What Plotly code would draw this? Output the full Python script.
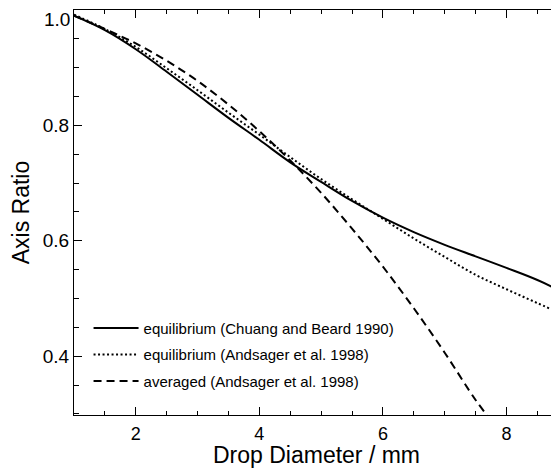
import plotly.graph_objects as go

# Drop diameter (mm)
diam_cb = [1.0, 1.5, 2.0, 2.5, 3.0, 3.5, 4.0, 4.5, 5.0, 5.5, 6.0, 6.5, 7.0, 7.5, 8.0, 8.5, 9.0]
ratio_cb = [0.990, 0.965, 0.932, 0.893, 0.853, 0.813, 0.775, 0.736, 0.702, 0.669, 0.640, 0.615, 0.593, 0.573, 0.553, 0.532, 0.506]

diam_and_eq = [1.0, 1.5, 2.0, 2.5, 3.0, 3.5, 4.0, 4.5, 5.0, 5.5, 6.0, 6.5, 7.0, 7.5, 8.0, 8.5, 9.0]
ratio_and_eq = [0.992, 0.967, 0.936, 0.899, 0.861, 0.822, 0.784, 0.745, 0.707, 0.672, 0.638, 0.604, 0.572, 0.541, 0.516, 0.492, 0.468]

diam_and_av = [1.0, 1.5, 2.0, 2.5, 3.0, 3.5, 4.0, 4.5, 5.0, 5.5, 6.0, 6.5, 7.0, 7.5, 7.7]
ratio_and_av = [0.990, 0.967, 0.942, 0.912, 0.877, 0.836, 0.790, 0.739, 0.683, 0.621, 0.555, 0.483, 0.406, 0.324, 0.2955]

names = ["equilibrium (Chuang and Beard 1990)",
         "equilibrium (Andsager et al. 1998)",
         "averaged (Andsager et al. 1998)"]

FONT = "Liberation Sans, Arial, sans-serif"

fig = go.Figure()
fig.add_trace(go.Scatter(x=diam_cb, y=ratio_cb, mode="lines", name=names[0],
                         line=dict(color="black", width=2, dash="solid"),
                         legendgroup="a", line_shape="spline"))
fig.add_trace(go.Scatter(x=diam_and_eq, y=ratio_and_eq, mode="lines", name=names[1],
                         line=dict(color="black", width=2, dash="2px,2.5px"),
                         legendgroup="b", line_shape="spline"))
fig.add_trace(go.Scatter(x=diam_and_av, y=ratio_and_av, mode="lines", name=names[2],
                         line=dict(color="black", width=2, dash="8px,5px"),
                         legendgroup="c", line_shape="spline"))
# invisible trace to carry right-hand mirrored ticks
fig.add_trace(go.Scatter(x=diam_cb, y=ratio_cb, yaxis="y2", mode="lines",
                         line=dict(color="rgba(0,0,0,0)"), showlegend=False,
                         hoverinfo="skip"))

# page body has an 8px default margin, so the figure is sized/offset to suit
fig.update_layout(
    width=551, height=460,
    margin=dict(l=66, r=0, t=2, b=46),
    paper_bgcolor="white", plot_bgcolor="white",
    font=dict(family=FONT, size=19, color="black"),
    showlegend=True,
    legend=dict(x=0.03, y=0.255, xanchor="left", yanchor="top",
                bgcolor="rgba(0,0,0,0)", font=dict(size=15, family=FONT),
                itemwidth=45, tracegroupgap=4),
    xaxis=dict(range=[1, 8.85], tick0=0, dtick=2, ticks="inside", ticklen=8,
               tickwidth=1, tickcolor="black", showline=True, linecolor="black",
               linewidth=1, mirror="ticks", showgrid=False, zeroline=False,
               minor=dict(dtick=0.5, ticks="inside", ticklen=4, tickcolor="black", showgrid=False),
               ticklabelstandoff=2,
               title=dict(text="Drop Diameter / mm", standoff=8),
               tickfont=dict(size=18)),
    yaxis=dict(range=[0.298, 1.0], tickvals=[0.4, 0.6, 0.8, 1.0],
               ticktext=["0.4", "0.6", "0.8", ""],
               ticks="inside", ticklen=8, tickwidth=1, tickcolor="black",
               showline=True, linecolor="black", linewidth=1, showgrid=False,
               zeroline=False,
               minor=dict(tick0=0, dtick=0.05, ticks="inside", ticklen=5, tickcolor="black", showgrid=False),
               title=dict(text="Axis Ratio", standoff=8),
               tickfont=dict(size=19)),
    yaxis2=dict(overlaying="y", side="right", matches="y", showline=False,
                tickvals=[0.4, 0.6, 0.8, 1.0], ticks="inside", ticklen=3,
                tickcolor="black", showticklabels=False, showgrid=False,
                zeroline=False,
                minor=dict(tick0=0, dtick=0.05, ticks="inside", ticklen=1, tickcolor="black", showgrid=False)),
    annotations=[dict(text="1.0", x=0, xref="paper", xanchor="right", xshift=-3,
                      y=1.0, yref="y", yanchor="top", yshift=2, borderpad=0,
                      showarrow=False, font=dict(size=19, family=FONT))],
)

fig.write_html("out.html")
